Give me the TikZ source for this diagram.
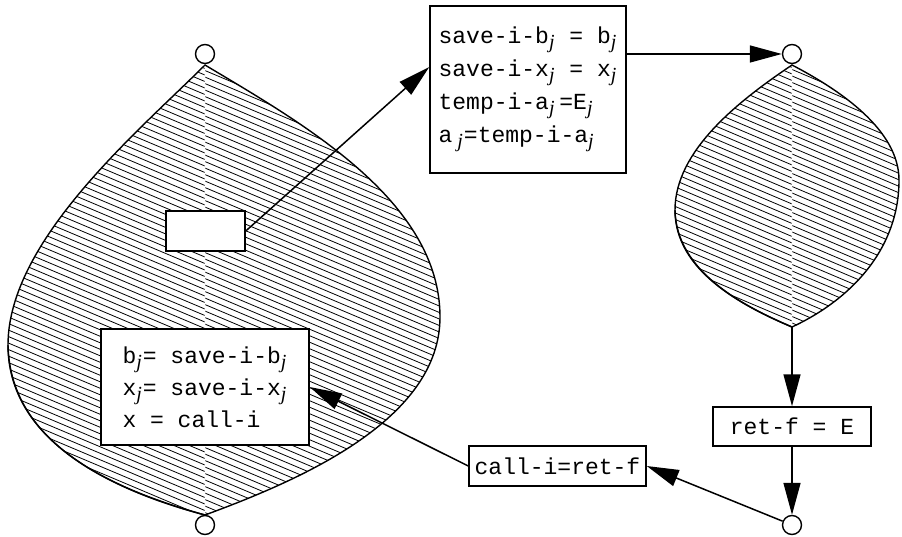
\documentclass[tikz,border=0pt]{standalone}
\usepackage{fontspec}
\setmonofont{Liberation Mono}
\newfontfamily\subfont{Liberation Serif}
\usetikzlibrary{arrows.meta}
\newcommand{\idx}[1]{\raisebox{-5pt}{\fontsize{20}{20}\selectfont\subfont\itshape #1}\kern1pt\relax}
\tikzset{
	stmt/.style={draw, fill=white, line width=1.5pt, inner sep=0pt, align=left,
		font=\ttfamily\fontsize{23}{33}\selectfont},
	port/.style={circle, draw, fill=white, line width=1.4pt, minimum size=19pt, inner sep=0pt},
	flow/.style={line width=1.5pt, -{Triangle[length=32pt,width=17pt]}},
	hatch/.style={line width=0.8pt},
	rim/.style={line width=1.4pt}
}
\newcommand{\leftleaf}{(205,65) .. controls (140,130) and (8,240) .. (8,345)
	.. controls (8,440) and (110,490) .. (205,515)
	.. controls (300,480) and (440,420) .. (440,317)
	.. controls (440,200) and (300,122) .. (205,65) -- cycle}
\newcommand{\rightleaf}{(792,65) .. controls (740,100) and (675,150) .. (675,210)
	.. controls (675,270) and (740,305) .. (792,327)
	.. controls (850,300) and (899,250) .. (899,180)
	.. controls (899,130) and (840,90) .. (792,65) -- cycle}
\begin{document}
\begin{tikzpicture}[x=1pt,y=-1pt]
		\useasboundingbox (0,0) rectangle (902,537);
		% hatching of the two regions, each in two halves
		\begin{scope}
			\clip \leftleaf;
			\clip (0,0) rectangle (204.6,537);
			\foreach \c in {-200,-193.5,...,520}
				\draw[hatch] (0,\c) -- (450,\c+190);
		\end{scope}
		\begin{scope}
			\clip \leftleaf;
			\clip (205.4,0) rectangle (450,537);
			\foreach \c in {-198,-191.5,...,520}
				\draw[hatch] (0,\c) -- (450,\c+190);
		\end{scope}
		\begin{scope}
			\clip \rightleaf;
			\clip (660,0) rectangle (791.6,537);
			\foreach \c in {-60,-53.5,...,340}
				\draw[hatch] (660,\c) -- (910,\c+106);
		\end{scope}
		\begin{scope}
			\clip \rightleaf;
			\clip (792.4,0) rectangle (910,537);
			\foreach \c in {-58,-51.5,...,340}
				\draw[hatch] (660,\c) -- (910,\c+106);
		\end{scope}
		\draw[rim] \leftleaf;
		\draw[rim] (8,345) .. controls (10,445) and (115,490) .. (205,515);
		\draw[rim] \rightleaf;
		\draw[rim] (675,210) .. controls (676,272) and (745,307) .. (792,327);
		% statements
		\node[stmt, minimum width=79pt, minimum height=40pt] (hole) at (205.5,231) {};
		\node[stmt, minimum width=196pt, minimum height=167pt] (save) at (528,89.5)
		{save-i-b\idx{j} = b\idx{j}\\ save-i-x\idx{j} = x\idx{j}\\
			temp-i-a\idx{j}\,=E\idx{j}\\ a\hspace{5pt}\idx{j}=temp-i-a\idx{j}};
		\node[stmt, minimum width=208pt, minimum height=116pt,
		font=\ttfamily\fontsize{23}{32}\selectfont] (restore) at (205,387)
		{b\idx{j}= save-i-b\idx{j}\\ x\idx{j}= save-i-x\idx{j}\\ x = call-i};
		\node[stmt, minimum width=158pt, minimum height=39pt] (ret) at (792,426.5) {ret-f = E};
		\node[stmt, minimum width=177pt, minimum height=40pt] (call) at (557.5,466) {call-i=ret-f};
		\node[port] (ltop) at (205,54) {};
		\node[port] (lbot) at (205,525) {};
		\node[port] (rtop) at (792,54) {};
		\node[port] (rbot) at (792,525) {};
		\coordinate (rtip) at (792,327);
		% control flow
		\draw[flow] (hole.east) -- ([yshift=22.5pt]save.west);
		\draw[flow] (save.east |- rtop) -- (rtop);
		\draw[flow] (rtip) -- (ret.north);
		\draw[flow] (ret.south) -- (rbot);
		\draw[flow] (rbot) -- (call.east);
		\draw[flow] (call.west) -- (restore.east);
\end{tikzpicture}
\end{document}
